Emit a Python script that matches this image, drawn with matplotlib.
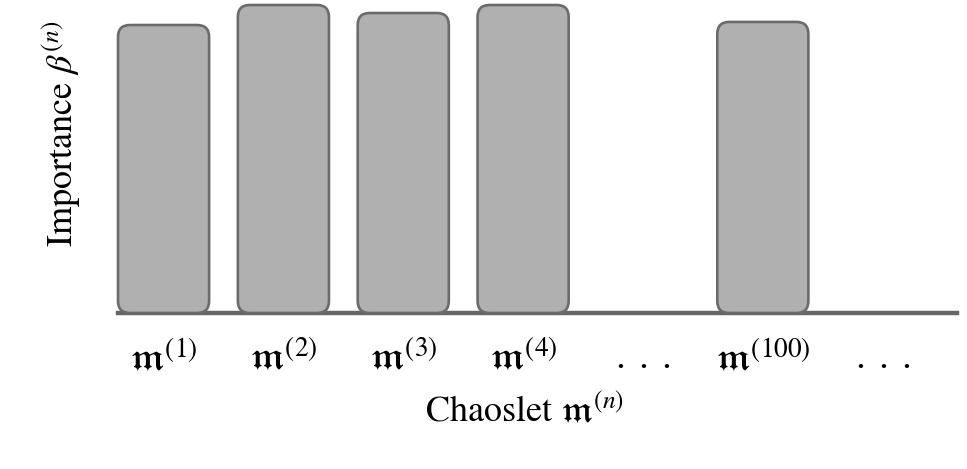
import matplotlib
matplotlib.use("Agg")
import matplotlib.pyplot as plt
from matplotlib.patches import FancyBboxPatch

plt.rcParams['font.family'] = ['STIXGeneral', 'DejaVu Serif']
plt.rcParams['mathtext.fontset'] = 'stix'

# data
slots = [0, 1, 2, 3, 5]
importance = [0.935, 1.0, 0.974, 1.0, 0.945]
tick_pos = [0, 1, 2, 3, 4, 5, 6]
tick_labels = [r'$\mathfrak{m}^{(1)}$', r'$\mathfrak{m}^{(2)}$', r'$\mathfrak{m}^{(3)}$',
               r'$\mathfrak{m}^{(4)}$', r'$.\;.\;.$', r'$\mathfrak{m}^{(100)}$', r'$.\;.\;.$']

W, H = 967, 469
fig = plt.figure(figsize=(W / 100, H / 100), dpi=100)
left, right, bottom, top = 118, 957, 313, 5
ax = fig.add_axes([left / W, 1 - bottom / H, (right - left) / W, (bottom - top) / H])

xlim = (-0.38, 6.62)
ylim = (0, 1.0)
ax.set_xlim(*xlim)
ax.set_ylim(*ylim)

# pixel-based rounding
w_px, h_px = right - left, bottom - top
aspect = ((ylim[1] - ylim[0]) / h_px) / ((xlim[1] - xlim[0]) / w_px)
bw = 0.76
for x, h in zip(slots, importance):
    p = FancyBboxPatch((x - bw / 2, 0), bw, h,
                       boxstyle="round,pad=0,rounding_size=0.1",
                       mutation_aspect=aspect,
                       facecolor='#b0b0b0', edgecolor='#6b6b6b', linewidth=1.9,
                       clip_on=False, zorder=3)
    ax.add_patch(p)

ax.axhline(0, color='#666666', linewidth=3.2, zorder=2, clip_on=False)

for s in ax.spines.values():
    s.set_visible(False)
ax.set_yticks([])
ax.set_xticks(tick_pos)
ax.set_xticklabels(tick_labels, fontsize=28)
ax.tick_params(axis='x', length=0, pad=20)

ax.set_xlabel(r'Chaoslet $\mathfrak{m}^{(n)}$', fontsize=26)
ax.set_ylabel(r'Importance $\beta^{(n)}$', fontsize=26)
ax.xaxis.set_label_coords(0.485, -0.32)
ax.yaxis.set_label_coords(-0.067, 0.58)
ax.xaxis.label.set_va('center')
ax.yaxis.label.set_va('center')

fig.savefig('out.png', dpi=100)
